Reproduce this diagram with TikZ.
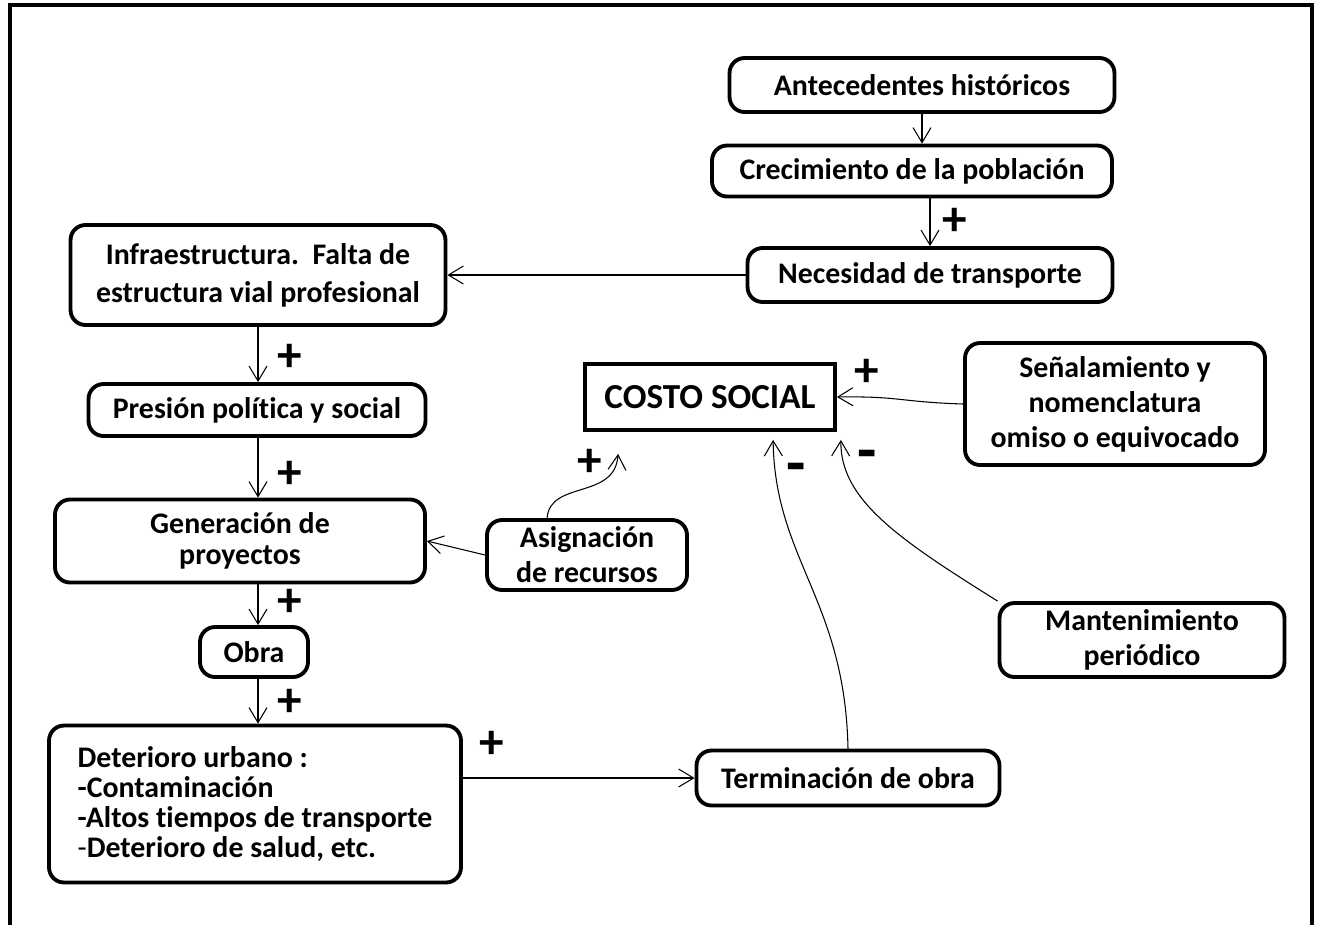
\documentclass[tikz,border=0pt]{standalone}
\usepackage{fontspec}
\setmainfont{Carlito}[Ligatures=NoCommon]
\usepackage{tikz}
\usetikzlibrary{arrows.meta,calc,positioning}
\tikzset{
%Define standard arrow tip
>={Straight Barb[length=0.3cm,width=0.36cm]},
%Define style for boxes and links
box/.style={draw, rounded corners=0.3cm, line width=2.2pt, align=center,
  font=\bfseries\fontsize{17}{20}\selectfont, inner sep=2pt},
link/.style={->, line width=0.6pt},
sign/.style={font=\bfseries\fontsize{28}{28}\selectfont, inner sep=0pt},
minus/.style={font=\bfseries\fontsize{36}{36}\selectfont, inner sep=0pt},
frame/.style={line width=1.8pt},
}

\begin{document}
\begin{tikzpicture}[x=0.02cm, y=-0.02cm]
    \useasboundingbox (0,0) rectangle (1318,924);
    %Outer frame
    \draw[frame] (10,930) -- (10,5) -- (1312,5) -- (1312,930);
    %Right column
    \node[box, minimum width=7.7cm, minimum height=1.08cm] (ante) at (922,85) {Antecedentes históricos};
    \node[box, minimum width=8cm, minimum height=1.02cm] (crec) at (912,171) {Crecimiento de la población};
    \node[box, minimum width=7.3cm, minimum height=1.08cm] (nec) at (930,275) {Necesidad de transporte};
    %Left column
    \node[box, minimum width=7.5cm, minimum height=2cm,
      font=\bfseries\fontsize{17}{21.5}\selectfont] (infra) at (258,275) {Infraestructura.\ \ Falta de\\estructura vial profesional};
    \node[box, minimum width=6.74cm, minimum height=1.04cm] (pres) at (257,410) {Presión política y social};
    \node[box, minimum width=7.4cm, minimum height=1.66cm,
      font=\bfseries\fontsize{17}{17.5}\selectfont] (gen) at (240,541) {Generación de\\proyectos};
    \node[box, minimum width=2.16cm, minimum height=1cm] (obra) at (254,652) {Obra};
    \node[box, minimum width=8.24cm, minimum height=3.14cm, align=left,
      font=\bfseries\fontsize{17}{17}\selectfont] (deter) at (255,804)
      {Deterioro urbano :\\-Contaminación\\-Altos tiempos de transporte\\{\mdseries -}Deterioro de salud, etc.};
    %Middle and right
    \node[box, minimum width=4cm, minimum height=1.4cm] (asign) at (587,555) {Asignación\\de recursos};
    \node[draw, line width=2.2pt, minimum width=5cm, minimum height=1.32cm,
      font=\bfseries\fontsize{20}{24}\selectfont] (costo) at (710,397) {COSTO SOCIAL};
    \node[box, minimum width=6cm, minimum height=2.44cm] (senal) at (1115,404) {Señalamiento y\\nomenclatura\\omiso o equivocado};
    \node[box, minimum width=5.7cm, minimum height=1.48cm] (mant) at (1142,640) {Mantenimiento\\periódico};
    \node[box, minimum width=6.06cm, minimum height=1.1cm] (term) at (848,778) {Terminación de obra};

    %Straight links
    \draw[link] (ante.south) -- (ante.south |- crec.north);
    \draw[link] (nec.north |- crec.south) -- (nec.north);
    \draw[link] (nec.west) -- (infra.east);
    \draw[link] (infra.south) -- (infra.south |- pres.north);
    \draw[link] (infra.south |- pres.south) -- (infra.south |- gen.north);
    \draw[link] (infra.south |- gen.south) -- (infra.south |- obra.north);
    \draw[link] (infra.south |- obra.south) -- (infra.south |- deter.north);
    \draw[link] (deter.east |- term.west) -- (term.west);
    \draw[link] (asign.west) -- (gen.east);
    %Curved links into COSTO SOCIAL
    \coordinate (aend) at ($(costo.south west)+(35,22)$);
    \coordinate (tend) at ($(costo.south west)+(190,8)$);
    \coordinate (mend) at ($(costo.south east)+(4,8)$);
    \draw[link] ($(asign.north west)+(62,0)$) .. controls (550,480) and (615,500) .. (aend);
    \draw[link] (senal.west) .. controls (900,402) and (900,396) .. (costo.east);
    \draw[link] (term.north) .. controls (845,600) and (775,560) .. (tend);
    \draw[link] (mant.north west) .. controls (900,540) and (840,500) .. (mend);

    %Signs
    \node[sign] (s1) at (955,222) {+};
    \node[sign] (s2) at (290,358) {+};
    \node[sign] (s3) at (290,475) {+};
    \node[sign] (s4) at (290,603) {+};
    \node[sign] (s5) at (290,703) {+};
    \node[sign] (s6) at (492,745) {+};
    \node[sign] (s7) at (590,463) {+};
    \node[sign] (s8) at (867,373) {+};
    \node[minus] (m1) at (796,474) {-};
    \node[minus] (m2) at (867,461) {-};
\end{tikzpicture}
\end{document}
